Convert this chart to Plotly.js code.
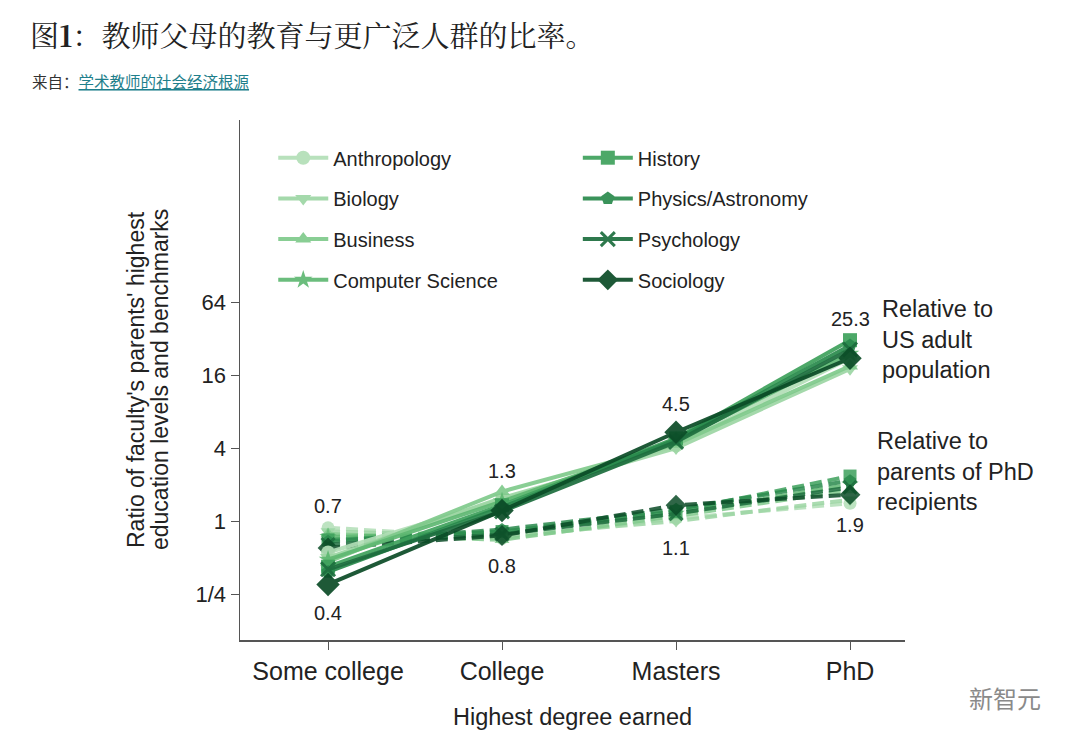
<!DOCTYPE html>
<html>
<head>
<meta charset="utf-8">
<script src="https://cdn.plot.ly/plotly-3.0.1.min.js"></script>
<style>
  html, body { margin: 0; padding: 0; background: #fff; }
  #chart { width: 1080px; height: 745px; }
</style>
</head>
<body>
<div id="chart"></div>
<script>
// 학위 단계 (x축 카테고리)
const degrees = ['Some college', 'College', 'Masters', 'PhD'];

// 분야 이름, 마커, 색
const fields = ['Anthropology', 'Biology', 'Business', 'Computer Science',
                'History', 'Physics/Astronomy', 'Psychology', 'Sociology'];
const symbols = ['circle', 'triangle-down', 'triangle-up', 'star',
                 'square', 'pentagon', 'x-thin', 'diamond'];
const colors = ['#b2dfb7', '#9dd6a4', '#80ca8c', '#5fb872',
                '#3ea15c', '#2a8a4d', '#1d6e3e', '#0b4c27'];

// 미국 성인 인구 대비 비율 (실선)
const usAdult = [
    [0.55, 1.50, 4.2, 22],
    [0.50, 1.55, 4.0, 18],
    [0.46, 1.75, 4.3, 19],
    [0.48, 1.45, 4.6, 24],
    [0.42, 1.35, 4.8, 31],
    [0.38, 1.30, 4.7, 28],
    [0.40, 1.20, 4.5, 26],
    [0.30, 1.22, 5.4, 22]
];

// 박사 학위자 부모 대비 비율 (점선)
const phdParents = [
    [0.88, 0.72, 1.05, 1.40],
    [0.82, 0.75, 1.00, 1.50],
    [0.78, 0.70, 1.10, 1.80],
    [0.74, 0.80, 1.15, 2.00],
    [0.70, 0.82, 1.20, 2.35],
    [0.68, 0.85, 1.25, 2.15],
    [0.64, 0.78, 1.15, 1.90],
    [0.60, 0.76, 1.35, 1.65]
];

// 평균값 라벨
const usAdultLabels = [0.4, 1.3, 4.5, 25.3];
const phdParentLabels = [0.7, 0.8, 1.1, 1.9];

// y축 눈금
const yTickVals = [0.25, 1, 4, 16, 64];
const yTickText = ['1/4', '1', '4', '16', '64'];

const FONT = 'Liberation Sans, Arial, Helvetica, sans-serif';
const CJK = 'Noto Serif CJK SC, Noto Sans CJK SC, serif';

const traces = [];
fields.forEach((name, i) => {
    traces.push({
        x: degrees, y: phdParents[i],
        type: 'scatter', mode: 'lines+markers',
        name: name, showlegend: false,
        line: {color: colors[i], width: 4, dash: '12px,6px'},
        marker: {symbol: symbols[i], size: i === 7 ? 16 : 13, color: colors[i],
                 line: {color: colors[i], width: i === 6 ? 3 : 0}},
        opacity: 0.85
    });
});
fields.forEach((name, i) => {
    traces.push({
        x: degrees, y: usAdult[i],
        type: 'scatter', mode: 'lines+markers',
        name: name, legendgroup: name,
        legend: i < 4 ? 'legend' : 'legend2',
        line: {color: colors[i], width: 4},
        marker: {symbol: symbols[i], size: i === 7 ? 18 : 14, color: colors[i],
                 line: {color: colors[i], width: i === 6 ? 3 : 0}},
        opacity: 0.92
    });
});

const labelFont = {family: FONT, size: 20, color: '#222'};
const annotations = [];
const solidShift = [-44, 36, 38, 32];
const dashShift = [34, -33, -32, -38];
degrees.forEach((d, i) => {
    annotations.push({x: d, y: Math.log10(usAdultLabels[i]), text: String(usAdultLabels[i]),
        showarrow: false, yshift: solidShift[i], font: labelFont});
    annotations.push({x: d, y: Math.log10(phdParentLabels[i]), text: String(phdParentLabels[i]),
        showarrow: false, yshift: dashShift[i], font: labelFont});
});

const sideFont = {family: FONT, size: 23.5, color: '#222'};
annotations.push({xref: 'x', yref: 'paper', x: 3.17, y: (640 - 339) / 520,
    text: 'Relative to<br>US adult<br>population', showarrow: false,
    xanchor: 'left', yanchor: 'middle', align: 'left', font: sideFont});
annotations.push({xref: 'x', yref: 'paper', x: 3.145, y: (640 - 471) / 520,
    text: 'Relative to<br>parents of PhD<br>recipients', showarrow: false,
    xanchor: 'left', yanchor: 'middle', align: 'left', font: sideFont});

// y축 제목 (줄 간격을 좁히려고 두 줄을 따로 배치)
const yTitleFont = {family: FONT, size: 23, color: '#222'};
annotations.push({xref: 'paper', yref: 'paper', x: (136 - 240) / 665, y: 0.5,
    xanchor: 'center', yanchor: 'middle', textangle: -90, showarrow: false,
    text: 'Ratio of faculty\'s parents\' highest', font: yTitleFont});
annotations.push({xref: 'paper', yref: 'paper', x: (160 - 240) / 665, y: 0.5,
    xanchor: 'center', yanchor: 'middle', textangle: -90, showarrow: false,
    text: 'education levels and benchmarks', font: yTitleFont});

// 출처 / 워터마크
annotations.push({xref: 'paper', yref: 'paper', x: -210 / 665, y: (640 - 81) / 520,
    xanchor: 'left', yanchor: 'middle', showarrow: false, align: 'left',
    text: '来自：<span style="color:#1f7f8c"><u>学术教师的社会经济根源</u></span>',
    font: {family: 'Noto Sans CJK SC, sans-serif', size: 15.5, color: '#333'}});
annotations.push({xref: 'paper', yref: 'paper', x: (1005 - 240) / 665, y: (640 - 697) / 520,
    xanchor: 'center', yanchor: 'middle', showarrow: false,
    text: '新智元', font: {family: 'Noto Sans CJK SC, sans-serif', size: 24, color: '#8a8a8a'}});

const legendCommon = {
    orientation: 'v', bgcolor: 'rgba(0,0,0,0)',
    font: {family: FONT, size: 20, color: '#222'},
    tracegroupgap: 11.7, itemwidth: 50,
    xanchor: 'left', yanchor: 'top'
};

const layout = {
    width: 1080, height: 745,
    margin: {l: 240, r: 175, t: 120, b: 105},
    paper_bgcolor: '#fff', plot_bgcolor: '#fff',
    showlegend: true,
    title: {
        text: '图<b>1</b>：教师父母的教育与更广泛人群的比率。',
        x: 30 / 1080, xref: 'container', xanchor: 'left',
        y: 1 - 37 / 745, yref: 'container', yanchor: 'middle',
        font: {family: CJK, size: 29, color: '#222'}
    },
    xaxis: {
        type: 'category', range: [-0.506, 3.316],
        showline: true, linecolor: '#555', linewidth: 1.5,
        ticks: 'outside', ticklen: 8, tickcolor: '#555',
        showgrid: false, zeroline: false,
        tickfont: {family: FONT, size: 25, color: '#222'},
        title: {text: 'Highest degree earned', font: {family: FONT, size: 23.5, color: '#222'}, standoff: 25}
    },
    yaxis: {
        type: 'log', range: [-0.981, 3.307],
        tickvals: yTickVals, ticktext: yTickText,
        showline: true, linecolor: '#555', linewidth: 1.5,
        ticks: 'outside', ticklen: 8, tickcolor: '#555',
        showgrid: false, zeroline: false,
        tickfont: {family: FONT, size: 22, color: '#222'}
    },
    legend: Object.assign({}, legendCommon, {x: 0.05, y: 0.965}),
    legend2: Object.assign({}, legendCommon, {x: 0.508, y: 0.965}),
    annotations: annotations
};

Plotly.newPlot('chart', traces, layout, {displayModeBar: false, staticPlot: true});
</script>
</body>
</html>
